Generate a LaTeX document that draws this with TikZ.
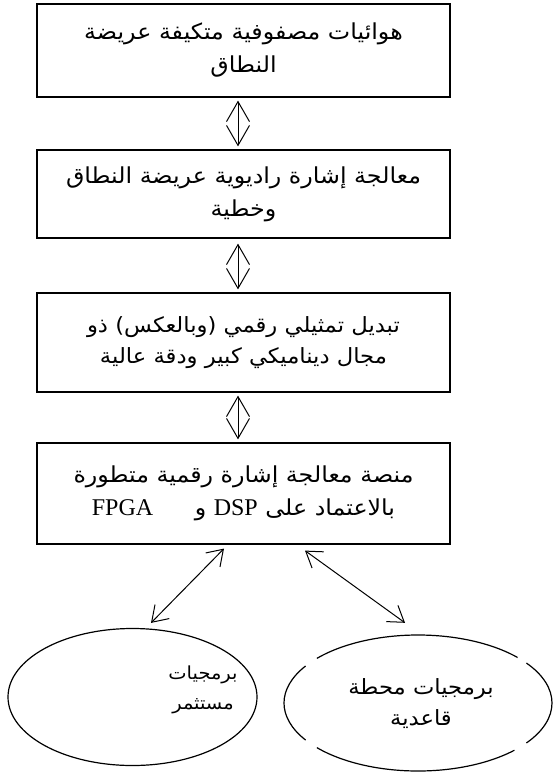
\documentclass[tikz,border=0pt]{standalone}
\usepackage{fontspec}
\setmainfont{Liberation Serif}
\newfontfamily\arabicfont[Script=Arabic,FakeStretch=1.08]{DejaVu Sans}
\usetikzlibrary{arrows.meta,shapes.geometric}
\TeXXeTstate=1
\newcommand{\AR}[1]{{\arabicfont\beginR #1\endR}}
\newcommand{\LT}[1]{\beginL{\fontsize{24}{33}\selectfont\rmfamily #1}\endL{}}
\begin{document}
\begin{tikzpicture}[x=1pt,y=-1pt,
  box/.style={draw, line width=1.2pt, minimum width=413pt, inner sep=0pt,
    align=center, font=\fontsize{22}{33}\selectfont},
  etext/.style={inner sep=0pt, align=center, font=\fontsize{21}{31}\selectfont},
  vv/.style={line width=1pt,
    {Straight Barb[length=20pt,width=23pt]}-{Straight Barb[length=20pt,width=23pt]}},
  dd/.style={line width=1pt,
    {Straight Barb[length=15pt,width=20pt]}-{Straight Barb[length=15pt,width=20pt]}},
  ellbox/.style={ellipse, inner sep=0pt}
]
\useasboundingbox (0,0) rectangle (553,772);

\node[box, minimum height=93pt] (b1) at (243.5,50.5)
  {\AR{هوائيات مصفوفية متكيفة عريضة}\\\AR{النطاق}};
\node[box, minimum height=88pt] (b2) at (243.5,194)
  {\AR{معالجة إشارة راديوية عريضة النطاق}\\\AR{وخطية}};
\node[box, minimum height=99pt, font=\fontsize{21}{31}\selectfont] (b3) at (243.5,342.5)
  {\AR{تبديل تمثيلي رقمي (وبالعكس) ذو}\\\AR{مجال ديناميكي كبير ودقة عالية}};
\node[box, minimum height=101pt] (b4) at (243.5,493.5)
  {\AR{منصة معالجة إشارة رقمية متطورة}\\\AR{بالاعتماد على \LT{DSP} و\hspace{34pt} \LT{FPGA}}};

\draw[vv] ([xshift=-5.5pt,yshift=-3pt]b1.south) -- ([xshift=-5.5pt,yshift=3pt]b2.north);
\draw[vv] ([xshift=-5.5pt,yshift=-5pt]b2.south) -- ([xshift=-5.5pt,yshift=3pt]b3.north);
\draw[vv] ([xshift=-5.5pt,yshift=-3pt]b3.south) -- ([xshift=-5.5pt,yshift=3pt]b4.north);

\node[ellbox, draw, line width=1.2pt, minimum width=249pt, minimum height=137pt] (e1) at (132.5,697) {};
\node[etext, font=\fontsize{18}{30}\selectfont] (t1) at (203,690) {\AR{برمجيات}\\\AR{مستثمر}};

\node[ellbox, minimum width=268pt, minimum height=136pt] (e2) at (418,703) {};
\foreach \a/\b in {42/139,147/213,221/316,324/396}
  \draw[line width=1.2pt] ([shift={({134pt*cos(\a)},{68pt*sin(\a)})}]e2.center)
    arc[start angle=\a, end angle=\b, x radius=134pt, y radius=68pt];
\node[etext] (t2) at (421,704) {\AR{برمجيات محطة}\\\AR{قاعدية}};

\draw[dd] ([xshift=-19.5pt,yshift=-4pt]b4.south) -- ([xshift=18.5pt,yshift=5pt]e1.north);
\draw[dd] ([xshift=61.5pt,yshift=-6pt]b4.south) -- ([xshift=-13pt,yshift=12pt]e2.north);
\end{tikzpicture}
\end{document}
